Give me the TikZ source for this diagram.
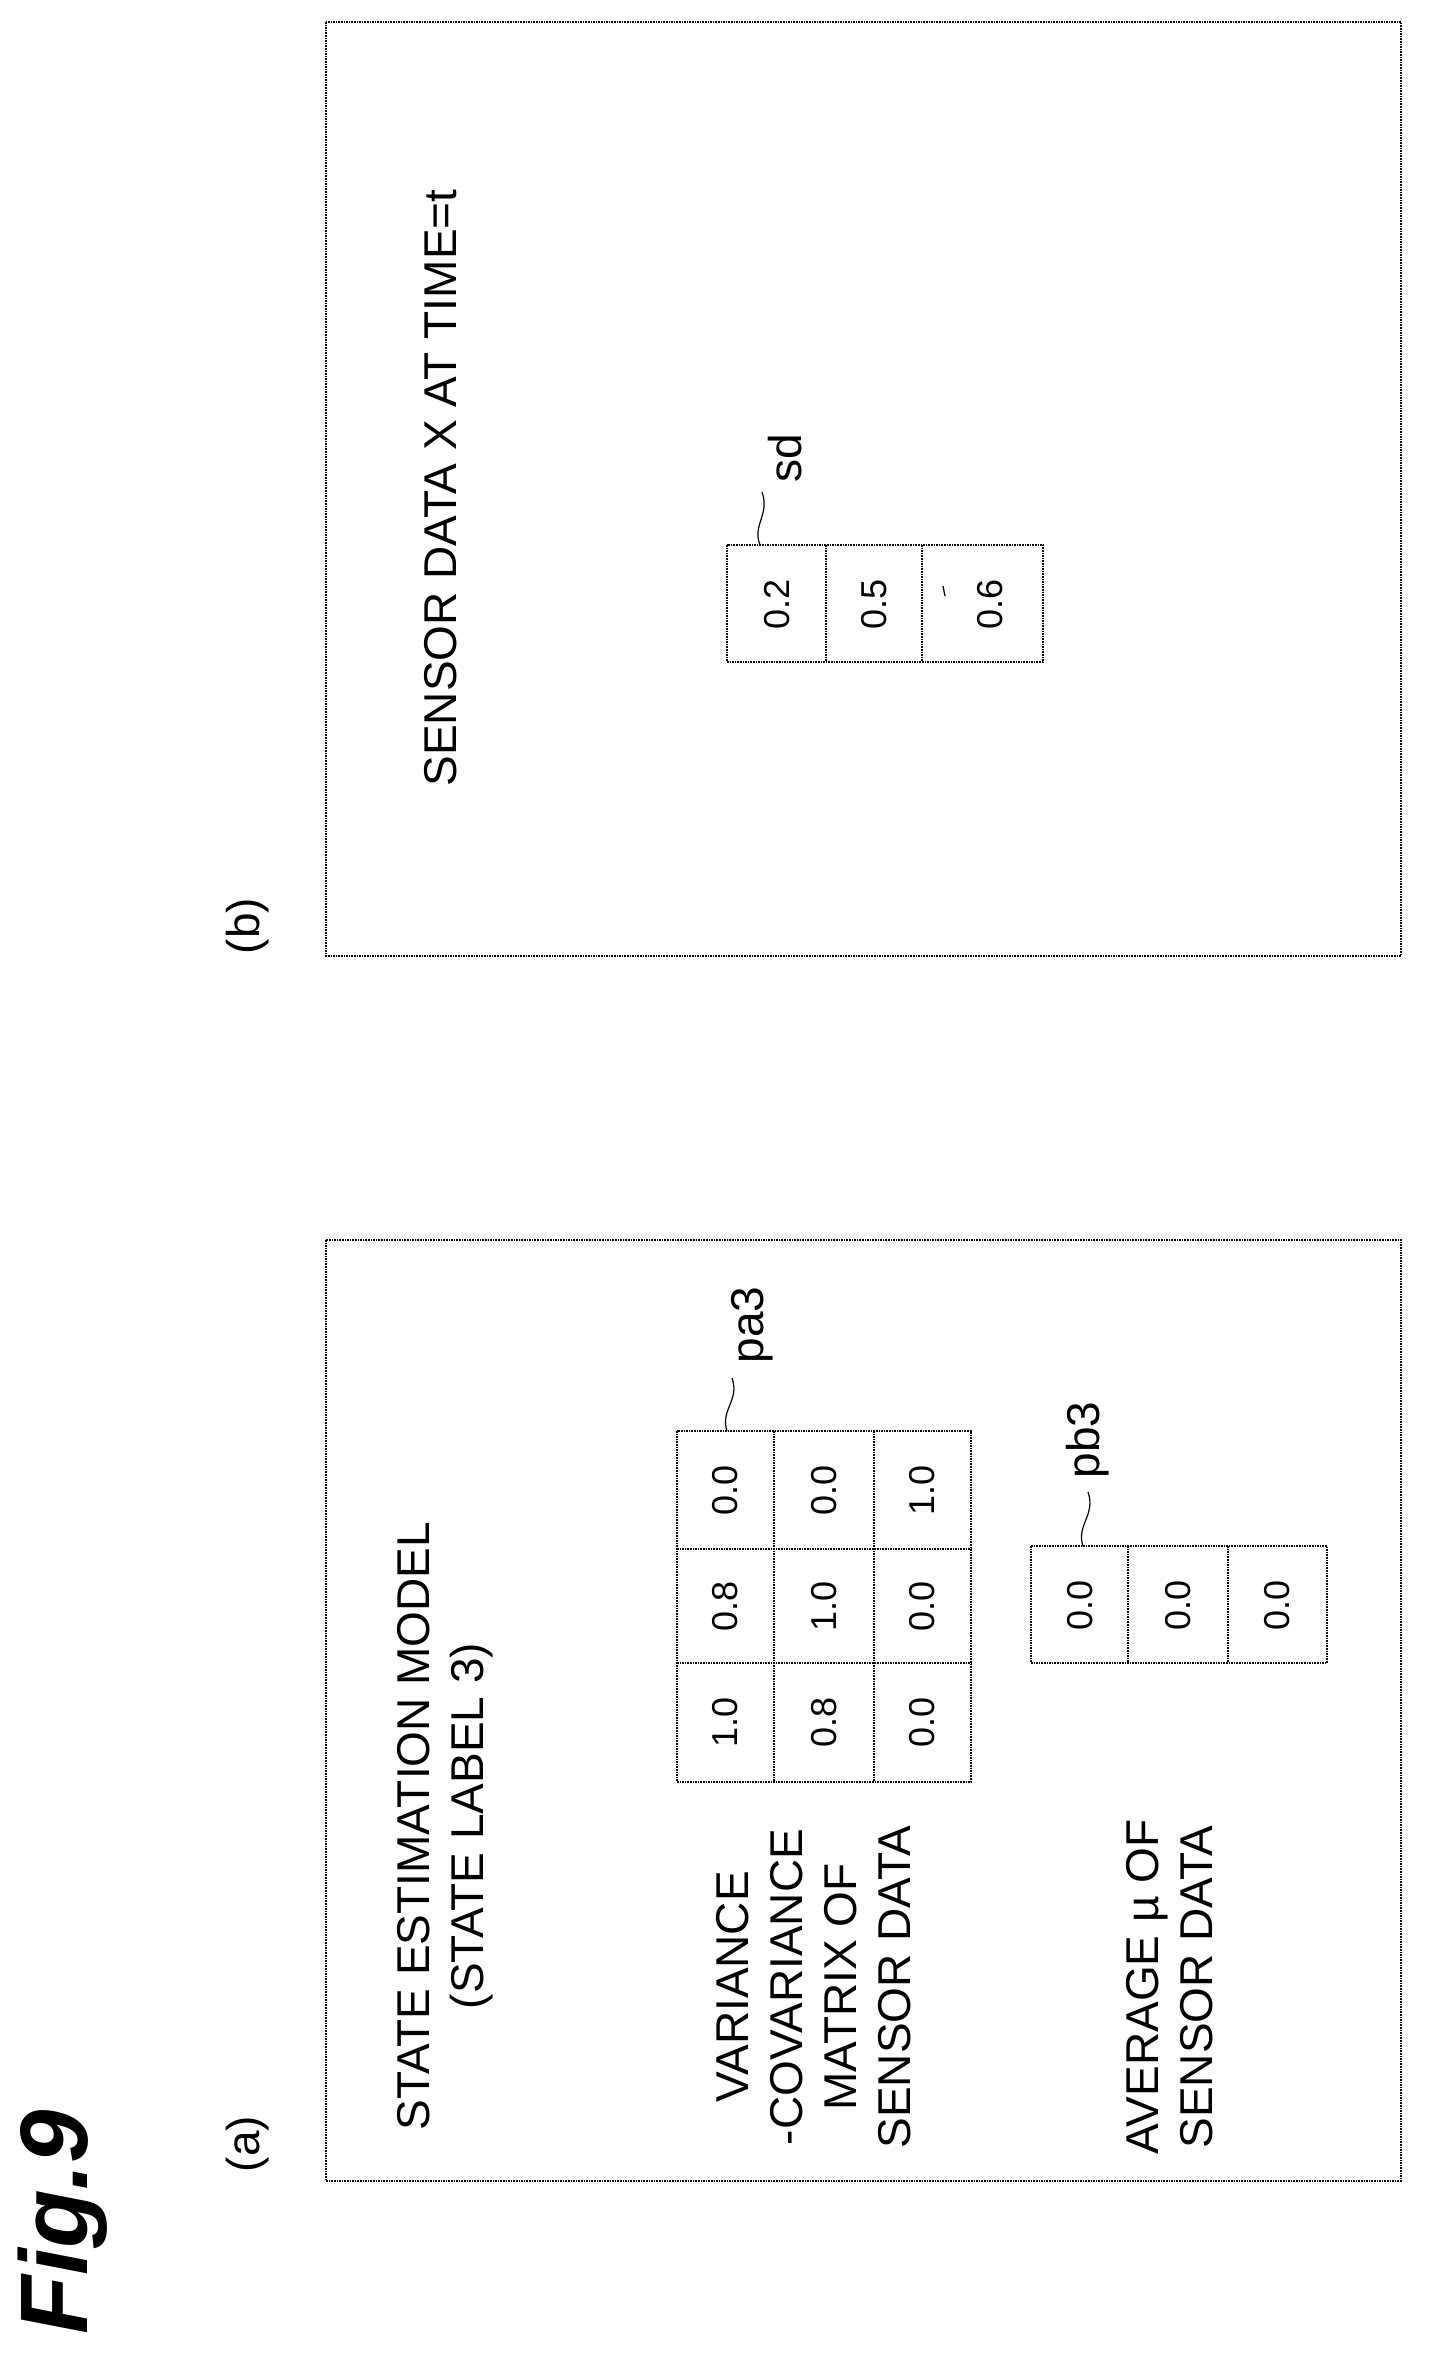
\documentclass[tikz,border=0pt]{standalone}
\usepackage{fontspec}
\setmainfont{Liberation Sans}
\begin{document}
\begin{tikzpicture}[x=1pt,y=-1pt,
  frame/.style={densely dotted,line width=1.6pt},
  txt/.style={rotate=90,font=\fontsize{46}{54}\selectfont,align=center,inner sep=0},
  num/.style={rotate=90,font=\fontsize{36}{40}\selectfont,inner sep=0},
  lead/.style={line width=1.2pt}]
\useasboundingbox (0,0) rectangle (1434,2359);
% frames
\draw[frame] (326,22) rectangle (1401,956);
\draw[frame] (326,1240) rectangle (1401,2181);
% titles
\node[rotate=90,font=\bfseries\itshape\fontsize{96}{106}\selectfont,inner sep=0] (fig) at (63,2222) {Fig.9};
\node[txt] (la) at (248,2144) {(a)};
\node[txt] (lb) at (248,926) {(b)};
% (b)
\node[txt] (sdt) at (441,488) {SENSOR DATA X AT TIME=t};
\draw[frame] (727,545) rectangle (1043,662);
\draw[frame] (826,545) -- (826,662) (922,545) -- (922,662);
\node[num] (s1) at (777,604) {0.2};
\node[num] (s2) at (874,604) {0.5};
\node[num] (s3) at (990,604) {0.6};
\draw[lead] (943,586) -- (945,596);
\coordinate (sdc) at (760,545);
\node[txt] (sdl) at (785,458) {sd};
\draw[lead] (sdc) .. controls (752,525) and (770,515) .. (762,492);
% (a)
\node[txt] (model) at (445,1826) {STATE ESTIMATION MODEL\\(STATE LABEL 3)};
\node[txt,font=\fontsize{46}{54}\selectfont] (var) at (814,1987) {VARIANCE\\-COVARIANCE\\MATRIX OF\\SENSOR DATA};
\node[txt,font=\fontsize{46}{54}\selectfont] (avg) at (1170,1987) {AVERAGE µ OF\\SENSOR DATA};
% pa3
\draw[frame] (677,1431) rectangle (971,1782);
\draw[frame] (774,1431) -- (774,1782) (874,1431) -- (874,1782)
  (677,1549) -- (971,1549) (677,1663) -- (971,1663);
\node[num] (a11) at (725,1490) {0.0};
\node[num] (a12) at (725,1606) {0.8};
\node[num] (a13) at (725,1722) {1.0};
\node[num] (a21) at (824,1490) {0.0};
\node[num] (a22) at (824,1606) {1.0};
\node[num] (a23) at (824,1722) {0.8};
\node[num] (a31) at (922,1490) {1.0};
\node[num] (a32) at (922,1606) {0.0};
\node[num] (a33) at (922,1722) {0.0};
\coordinate (pac) at (727,1431);
\node[txt] (pal) at (752,1325) {pa3};
\draw[lead] (pac) .. controls (720,1410) and (740,1400) .. (732,1378);
% pb3
\draw[frame] (1031,1546) rectangle (1327,1663);
\draw[frame] (1128,1546) -- (1128,1663) (1228,1546) -- (1228,1663);
\node[num] (b1) at (1080,1605) {0.0};
\node[num] (b2) at (1178,1605) {0.0};
\node[num] (b3) at (1277,1605) {0.0};
\coordinate (pbc) at (1083,1546);
\node[txt] (pbl) at (1088,1440) {pb3};
\draw[lead] (pbc) .. controls (1076,1525) and (1096,1515) .. (1088,1492);
\end{tikzpicture}
\end{document}
